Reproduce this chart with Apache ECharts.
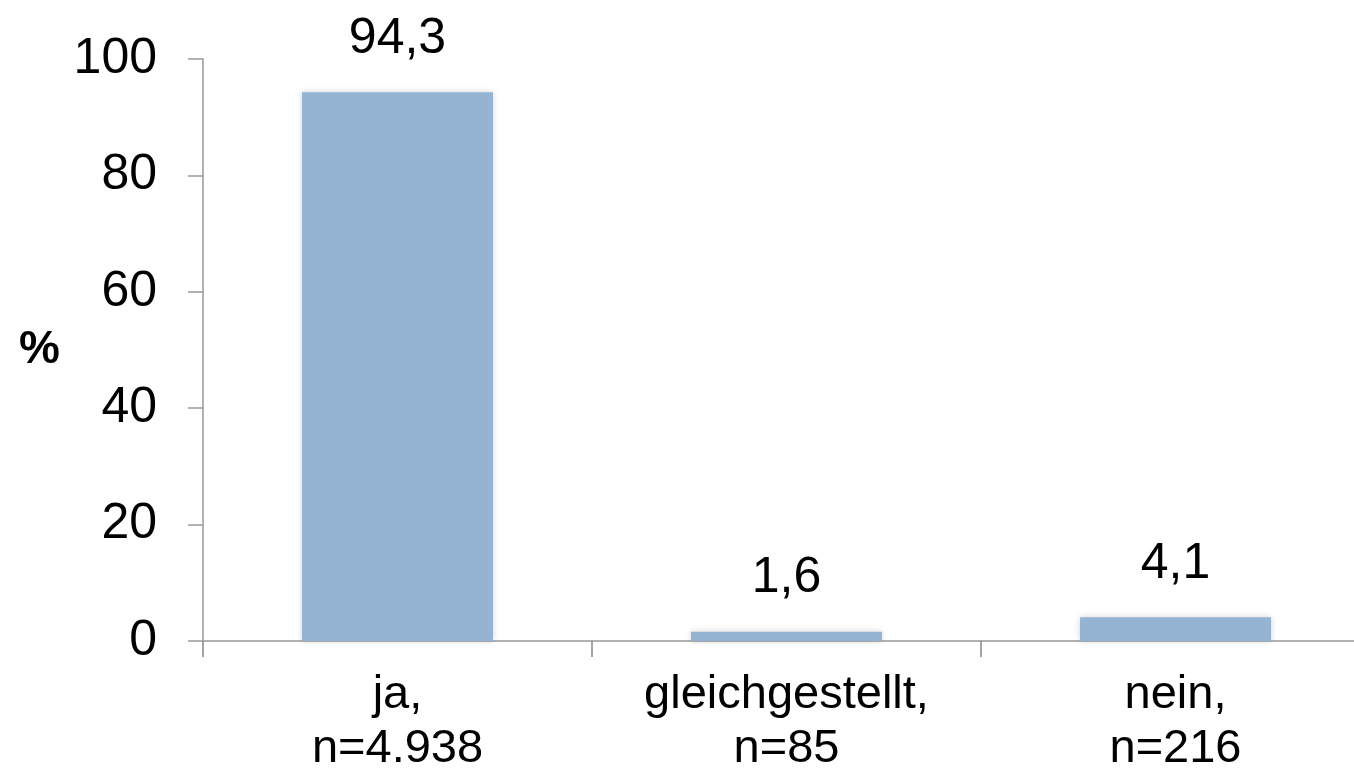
<!DOCTYPE html>
<html><head><meta charset="utf-8">
<script src="https://cdn.jsdelivr.net/npm/echarts@6/dist/echarts.min.js"></script>
<style>html,body{margin:0;padding:0;background:#fff}#c{width:1354px;height:773px}</style>
</head><body><div id="c"></div>
<script>
const categories = ['ja,\nn=4.938', 'gleichgestellt,\nn=85', 'nein,\nn=216'];
const values = [94.3, 1.6, 4.1];
const yTicks = {min: 0, max: 100, interval: 20};
const yName = '%';

const chart = echarts.init(document.getElementById('c'));
chart.setOption({
  animation: false,
  backgroundColor: '#fff',
  grid: {left: 203, top: 59, width: 1167, height: 582, outerBoundsMode: 'none', containLabel: false},
  xAxis: {
    type: 'category', data: categories,
    axisLine: {show: true, lineStyle: {color: '#999', width: 1.5}},
    axisTick: {show: true, interval: 0, alignWithLabel: false, length: 16, lineStyle: {color: '#888', width: 1.5}},
    axisLabel: {color: '#000', fontFamily: 'Liberation Sans', fontSize: 47, lineHeight: 54, margin: 27}
  },
  yAxis: {
    type: 'value', min: yTicks.min, max: yTicks.max, interval: yTicks.interval,
    name: yName, nameLocation: 'middle', nameRotate: 0, nameGap: 143,
    nameTextStyle: {color: '#000', fontFamily: 'Liberation Sans', fontSize: 46, fontWeight: 'bold'},
    axisLine: {show: true, lineStyle: {color: '#999', width: 1.5}},
    axisTick: {show: true, length: 15, lineStyle: {color: '#999', width: 1.5}},
    splitLine: {show: false},
    axisLabel: {color: '#000', fontFamily: 'Liberation Sans', fontSize: 50, margin: 46}
  },
  series: [{
    type: 'bar', data: values, barWidth: 191,
    itemStyle: {color: '#95B3D3', shadowColor: 'rgba(0,0,0,0.18)', shadowBlur: 6},
    label: {show: true, position: 'top', distance: 28, color: '#000',
      fontFamily: 'Liberation Sans', fontSize: 50,
      formatter: p => String(p.value).replace('.', ',')}
  }]
});
</script></body></html>
